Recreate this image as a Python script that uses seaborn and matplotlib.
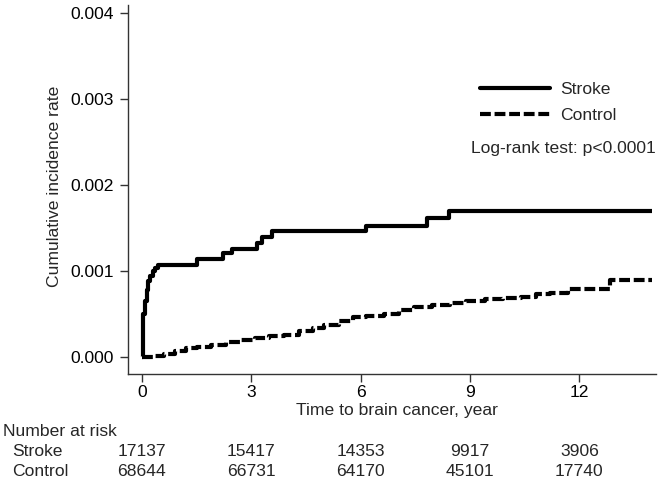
import numpy as np
import pandas as pd
import matplotlib
matplotlib.use("Agg")
import matplotlib.pyplot as plt
import matplotlib.ticker as mticker
import matplotlib.transforms as mtransforms
from matplotlib.lines import Line2D
import seaborn as sns

# Curvas de incidência acumulada
stroke_time = [0, 0.02, 0.04, 0.08, 0.13, 0.18, 0.22, 0.30, 0.36, 0.44,
               1.50, 2.22, 2.48, 3.17, 3.29, 3.57, 6.15, 7.83, 8.43, 14.0]
stroke_rate = [0, 0.00030, 0.00050, 0.00065, 0.00078, 0.00088, 0.00094, 0.00100,
               0.00104, 0.00107, 0.00114, 0.00121, 0.00126, 0.00133, 0.00140,
               0.00147, 0.00152, 0.00162, 0.00170, 0.00170]

control_time = [0, 0.35, 0.6, 0.9, 1.2, 1.5, 1.9, 2.3, 2.7, 3.1, 3.5, 3.9, 4.3,
                4.7, 5.0, 5.4, 5.8, 6.15, 6.65, 7.05, 7.45, 7.95, 8.45, 8.9, 9.4,
                9.9, 10.4, 10.8, 11.2, 11.7, 12.4, 12.85, 14.0]
control_rate = [0, 0.00001, 0.00004, 0.00007, 0.00010, 0.00012, 0.00014, 0.00017,
                0.00020, 0.00022, 0.00024, 0.00026, 0.00030, 0.00034, 0.00037,
                0.00042, 0.00046, 0.00048, 0.00050, 0.00055, 0.00058, 0.00061,
                0.00063, 0.00065, 0.00067, 0.00069, 0.00070, 0.00073, 0.00074,
                0.00079, 0.00079, 0.00089, 0.00089]

# Número em risco
risk_times = [0, 3, 6, 9, 12]
risk_stroke = [17137, 15417, 14353, 9917, 3906]
risk_control = [68644, 66731, 64170, 45101, 17740]

FS = 12.6
DASH = (0, (2.6, 0.9))

sns.set_theme(style="ticks")
plt.rcParams['font.family'] = ['Liberation Sans', 'DejaVu Sans']
plt.rcParams['font.size'] = FS

fig = plt.figure(figsize=(6.66, 4.8), dpi=100)
ax = fig.add_axes([128 / 666, 1 - 374 / 480, 528 / 666, 369 / 480])

df_s = pd.DataFrame({"tempo": stroke_time, "taxa": stroke_rate})
df_c = pd.DataFrame({"tempo": control_time, "taxa": control_rate})

sns.lineplot(data=df_s, x="tempo", y="taxa", ax=ax, color="black",
             linewidth=3, drawstyle="steps-post", estimator=None,
             solid_capstyle="butt")
sns.lineplot(data=df_c, x="tempo", y="taxa", ax=ax, color="black",
             linewidth=3, drawstyle="steps-post", estimator=None)
ax.lines[1].set_linestyle(DASH)
ax.lines[1].set_dash_capstyle("butt")

ax.set_xlim(-0.38, 14.1)
ax.set_ylim(-0.000198, 0.004093)
ax.set_xticks(risk_times)
ax.set_yticks([0, 0.001, 0.002, 0.003, 0.004])
ax.yaxis.set_major_formatter(mticker.FormatStrFormatter('%.3f'))
ax.tick_params(axis="both", labelsize=FS, length=6, width=1, color="#333333",
               labelcolor="black", pad=4)
ax.tick_params(axis="x", pad=2)
for sp in ["left", "bottom"]:
    ax.spines[sp].set_color("#333333")
    ax.spines[sp].set_linewidth(1)
sns.despine(ax=ax)

ax.set_xlabel("Time to brain cancer, year", fontsize=FS)
ax.set_ylabel("Cumulative incidence rate", fontsize=FS)
ax.xaxis.set_label_coords((397 - 128) / 528, -(410 - 374) / 369)
ax.xaxis.label.set_va("center")
ax.yaxis.set_label_coords(-(128 - 55) / 528, (374 - 186) / 369)
ax.yaxis.label.set_va("center")

handles = [Line2D([], [], color="black", lw=3),
           Line2D([], [], color="black", lw=3, ls=DASH)]
ax.legend(handles, ["Stroke", "Control"], frameon=False, fontsize=FS,
          loc="upper left", bbox_to_anchor=(480 / 666, 1 - 82 / 480),
          bbox_transform=fig.transFigure, borderpad=0, borderaxespad=0,
          handlelength=70 / 17.5, handletextpad=10 / 17.5, labelspacing=0.6)

fig.text(656 / 666, 1 - 148 / 480, "Log-rank test: p<0.0001",
         ha="right", va="center", fontsize=FS)

# Tabela de número em risco
fig.text(3 / 666, 1 - 432 / 480, "Number at risk", ha="left", va="center", fontsize=FS)
fig.text(12 / 666, 1 - 452 / 480, "Stroke", ha="left", va="center", fontsize=FS)
fig.text(12 / 666, 1 - 472 / 480, "Control", ha="left", va="center", fontsize=FS)
blend = mtransforms.blended_transform_factory(ax.transData, fig.transFigure)
for t, s, c in zip(risk_times, risk_stroke, risk_control):
    ax.text(t, 1 - 452 / 480, str(s), transform=blend, ha="center", va="center",
            fontsize=FS, clip_on=False)
    ax.text(t, 1 - 472 / 480, str(c), transform=blend, ha="center", va="center",
            fontsize=FS, clip_on=False)

fig.savefig("out.png", dpi=100)
